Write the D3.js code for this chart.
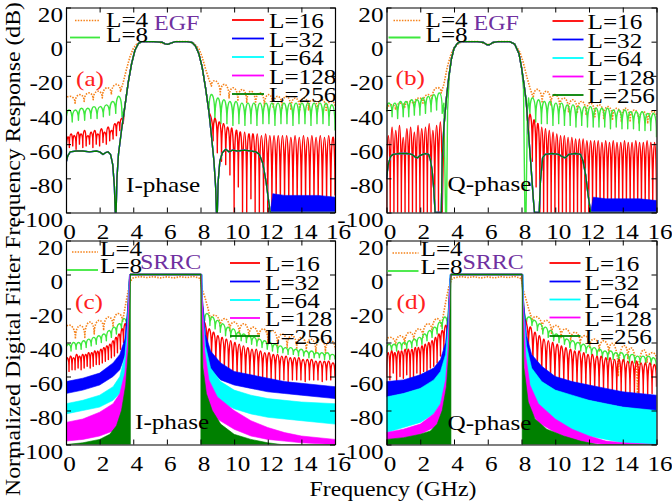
<!DOCTYPE html>
<html>
<head>
<meta charset="utf-8">
<script src="https://cdn.jsdelivr.net/npm/d3@7/dist/d3.min.js"></script>
<style>
  body { margin: 0; background: #fff; }
  svg { display: block; }
  text { font-family: "Liberation Serif", "Times New Roman", serif; }
</style>
</head>
<body>
<div id="chart"></div>
<script>
// ---- data (frequency in GHz, response in dB) ----
const freqTicks = [0, 2, 4, 6, 8, 10, 12, 14, 16];
const dbTicks = [-100, -80, -60, -40, -20, 0, 20];
const legendLabels = ["L=4", "L=8", "L=16", "L=32", "L=64", "L=128", "L=256"];
const panelTitles = ["EGF", "EGF", "SRRC", "SRRC"];
const panelTags = ["(a)", "(b)", "(c)", "(d)"];
const phaseLabels = ["I-phase", "Q-phase", "I-phase", "Q-phase"];

// "lobes" series: values alternate trough / peak, evenly spread from f0 to f1
// (a) EGF, I-phase
const egfIMain = [[0,-71],[0.1,-67],[0.25,-64.5],[0.6,-64],[1.0,-64],[1.4,-64.5],[1.8,-64],[2.0,-64.5],[2.2,-66],[2.35,-65],[2.5,-64.5],[2.65,-66],[2.78,-72],[2.88,-85],[2.93,-100],[2.98,-100],[3.03,-80],[3.12,-66],[3.3,-52],[3.5,-38],[3.7,-24],[3.9,-13],[4.1,-5],[4.3,-1.2],[4.5,0],[5.2,0],[5.7,-0.3],[5.9,-1.3],[6.05,-1.6],[6.2,-1],[6.5,0],[7.2,0],[7.5,-0.5],[7.7,-2.5],[7.9,-7],[8.1,-15],[8.3,-27],[8.5,-41],[8.65,-55],[8.8,-70],[8.9,-85],[8.95,-100],[9.0,-100],[9.05,-82],[9.15,-70],[9.3,-65],[9.5,-63],[9.7,-64.5],[9.9,-63.5],[10.2,-64],[10.6,-63.5],[11.0,-64],[11.3,-64.5],[11.5,-66],[11.7,-71],[11.9,-82],[12.05,-93],[12.15,-100],[16,-100]];
const egfIPass = [[3.5,-38],[3.7,-24],[3.9,-13],[4.1,-5],[4.3,-1.2],[4.5,0],[5.2,0],[5.7,-0.3],[5.9,-1.3],[6.05,-1.6],[6.2,-1],[6.5,0],[7.2,0],[7.5,-0.5],[7.7,-2.5],[7.9,-7],[8.1,-15],[8.3,-27],[8.5,-41]];
const egfIBlueFloor = [[12.15,-100],[12.3,-89],[13,-90],[14,-90],[15,-90],[16,-91]];
const egfIRedL = {f0: 0, f1: 3.4, v: [-71,-56,-62,-54,-61,-55,-63,-53,-60,-54,-62,-52,-61,-55,-60,-53,-62,-52,-60,-54,-61,-51,-59,-53,-60,-50,-58,-52,-57,-48,-55,-47,-52,-45,-48]};
const egfIRedR = {f0: 8.5, f1: 16, v: [-41,-44,-58,-45,-65,-47,-70,-48,-72,-50,-78,-51,-100,-52,-85,-53,-100,-53,-100,-54,-92,-54,-100,-54,-100,-55,-100,-54,-100,-55,-100,-55,-100,-55,-100,-55,-100,-55,-100,-56,-100,-55,-100,-56,-100,-55,-100,-56,-100,-55,-100,-56,-100,-55,-100,-56,-100,-55,-100,-56,-90]};
const egfIGreenL = {f0: 0, f1: 3.33, v: [-47,-40,-47,-40,-46,-39,-46,-39,-45,-38,-45,-38,-44,-37,-43,-35,-42,-32,-44]};
const egfIGreenR = {f0: 8.5, f1: 16, v: [-41,-31,-47,-33,-48,-34,-48,-35,-49,-35,-48,-36,-49,-36,-48,-36,-49,-36,-48,-36,-48,-36,-49,-36,-48,-36,-48,-36,-49,-36,-48,-36,-48,-36,-49,-36,-48,-36,-48,-36,-49,-37,-52]};
const egfIOrangeL = {f0: 0, f1: 3.24, v: [-34,-32,-36,-31,-35,-30,-34,-29,-33,-27,-31,-25,-29]};
const egfIOrangeMid = [[3.24,-29],[3.4,-24],[3.6,-16],[3.8,-9],[4.0,-4],[4.2,-1.5],[4.4,-0.5],[4.6,0],[5.5,-0.2],[5.85,-1.2],[6.05,-1.6],[6.25,-1],[6.5,0],[7.3,0],[7.6,-1],[7.9,-4],[8.1,-9],[8.3,-16],[8.5,-22],[8.65,-26]];
const egfIOrangeR = {f0: 8.65, f1: 16, v: [-26,-23,-31,-25,-33,-27,-35,-28,-36,-29,-37,-30,-38,-31,-39,-32,-39,-32,-40,-33,-40,-33,-40,-34,-41,-34,-41,-35,-38]};

// (b) EGF, Q-phase
const egfQMain = [[0,-80],[0.1,-72],[0.25,-67],[0.4,-66],[0.8,-65.5],[1.2,-65.5],[1.5,-66],[1.7,-67.5],[1.85,-68],[2.0,-66.5],[2.3,-65.5],[2.5,-66],[2.6,-69],[2.7,-75],[2.8,-86],[2.88,-100],[3.25,-100],[3.3,-70],[3.4,-50],[3.55,-33],[3.7,-20],[3.85,-10],[4.0,-4],[4.2,-1],[4.4,0],[5.4,0],[5.75,-0.5],[5.95,-1.8],[6.1,-1.8],[6.3,-0.5],[6.6,0],[7.3,0],[7.6,-1.5],[7.85,-7],[8.0,-15],[8.15,-25],[8.28,-35],[8.42,-54],[8.57,-74],[8.7,-92],[8.77,-100],[9.05,-100],[9.12,-82],[9.25,-68],[9.4,-66],[9.8,-65.5],[10.2,-66],[10.45,-67.5],[10.6,-68],[10.8,-66],[11.2,-65.5],[11.5,-66],[11.65,-70],[11.8,-78],[11.95,-90],[12.1,-100],[16,-100]];
const egfQPass = [[3.4,-50],[3.55,-33],[3.7,-20],[3.85,-10],[4.0,-4],[4.2,-1],[4.4,0],[5.4,0],[5.75,-0.5],[5.95,-1.8],[6.1,-1.8],[6.3,-0.5],[6.6,0],[7.3,0],[7.6,-1.5],[7.85,-7],[8.0,-15],[8.15,-25],[8.28,-35],[8.42,-54]];
const egfQBlueFloor = [[12.1,-100],[12.25,-91],[13,-92],[14,-92],[15,-92],[16,-93]];
const egfQRedL = {f0: 0, f1: 3.3, v: [-100,-55,-100,-50,-100,-52,-100,-49,-100,-56,-100,-51,-100,-50,-100,-53,-100,-49,-100,-51,-100,-50,-100,-48,-100,-52,-100,-49,-100,-47,-100]};
const egfQRedR = {f0: 8.42, f1: 16, v: [-54,-43,-70,-46,-85,-48,-100,-50,-100,-51,-100,-52,-100,-53,-100,-54,-100,-55,-100,-55,-100,-56,-100,-56,-100,-57,-100,-57,-100,-57,-100,-58,-100,-58,-100,-58,-100,-58,-100,-59,-100,-58,-100,-59,-100,-58,-100,-59,-100,-59,-100,-58,-100,-59,-100,-59,-100,-58,-100,-59,-100,-59,-100,-58,-100,-59,-100,-59,-100]};
const egfQGreenL = {f0: 0, f1: 3.3, v: [-41,-36,-44,-36,-45,-35,-44,-35,-44,-34,-43,-34,-43,-33,-42,-32,-41,-31,-40,-30,-42]};
const egfQGreenMid = [[3.3,-42],[3.4,-36],[3.5,-100],[3.56,-100],[3.62,-40],[3.72,-20],[3.85,-10],[4.0,-4],[4.2,-1],[4.4,0],[5.4,0],[5.75,-0.5],[5.95,-1.8],[6.1,-1.8],[6.3,-0.5],[6.6,0],[7.3,0],[7.6,-1.5],[7.85,-7],[8.0,-15],[8.12,-28],[8.2,-100],[8.27,-100],[8.35,-40],[8.42,-33],[8.5,-42]];
const egfQGreenR = {f0: 8.5, f1: 16, v: [-42,-33,-47,-34,-48,-35,-48,-35,-49,-36,-48,-36,-49,-37,-49,-37,-50,-38,-49,-38,-50,-38,-50,-39,-50,-39,-50,-39,-51,-40,-50,-40,-51,-40,-51,-41,-51,-41,-52,-41,-52,-42,-52,-42,-56]};
const egfQOrangeL = {f0: 0, f1: 3.24, v: [-41,-37,-40,-36,-39,-35,-38,-33,-36,-31,-34,-27,-30]};
const egfQOrangeMid = [[3.24,-30],[3.4,-25],[3.6,-15],[3.8,-8],[4.0,-3.5],[4.2,-1.5],[4.4,-0.5],[4.6,0],[5.5,0],[5.9,-1.5],[6.1,-1.7],[6.3,-0.7],[6.6,0],[7.3,0],[7.6,-1.5],[7.9,-6],[8.1,-12],[8.3,-20],[8.5,-27],[8.7,-33]];
const egfQOrangeR = {f0: 8.7, f1: 16, v: [-33,-28,-36,-29,-37,-31,-39,-33,-41,-34,-42,-35,-43,-36,-44,-37,-45,-38,-46,-39,-47,-39,-47,-40,-48,-41,-48,-41,-44]};

// (c) SRRC, I-phase  (bands: [f, top, bottom]; bottom defaults to -100)
const srrcPass = [[3.8,0],[8.05,0]];
const srrcIL256L = [[0,-100],[1,-99],[2,-97],[2.6,-94],[3.0,-89],[3.3,-80],[3.55,-65],[3.7,-45],[3.78,-20],[3.83,0]];
const srrcIL256R = [[8.02,0],[8.06,-25],[8.15,-55],[8.35,-70],[8.7,-80],[9.2,-88],[10,-94],[11,-97],[12,-99],[12.8,-100],[16,-100]];
const srrcIL128L = [[0,-87,-98],[1,-85,-97],[2,-81,-95],[2.8,-76,-92],[3.2,-70,-88],[3.5,-58,-78],[3.65,-40,-60],[3.75,-10,-30],[3.8,0,-5]];
const srrcIL128R = [[8.05,0,-5],[8.1,-15,-40],[8.25,-45,-70],[8.5,-62,-78],[9,-72,-85],[10,-80,-91],[11,-86,-95],[12,-90,-97],[13,-93,-98],[14,-95,-99],[16,-97,-100]];
const srrcIL64L = [[0,-76,-82],[1,-74,-80],[2,-71,-78],[2.8,-66,-74],[3.2,-60,-70],[3.5,-48,-60],[3.65,-30,-45],[3.75,-5,-15],[3.78,0,-3]];
const srrcIL64R = [[8.08,0,-3],[8.12,-20,-35],[8.3,-42,-58],[8.6,-55,-68],[9.2,-63,-75],[10,-68,-79],[11,-71,-82],[12,-73,-84],[13,-74,-85],[14,-75,-86],[16,-76,-88]];
const srrcIL32L = [[0,-63,-70],[1,-61,-68],[2,-58,-65],[2.8,-52,-60],[3.2,-47,-56],[3.5,-38,-48],[3.65,-22,-35],[3.75,-3,-10],[3.78,0,-2]];
const srrcIL32R = [[8.08,0,-2],[8.12,-15,-28],[8.3,-35,-48],[8.6,-45,-56],[9.2,-52,-62],[10,-57,-65],[11,-59,-67],[12,-61,-69],[13,-63,-70],[14,-64,-71],[16,-66,-73]];
const srrcIRedL = {f0: 0, f1: 3.6, v: [-56,-49,-57,-48,-56,-49,-56,-47,-55,-48,-56,-47,-55,-47,-54,-46,-55,-46,-54,-45,-53,-45,-53,-44,-52,-43,-51,-42,-50,-41,-49,-39,-48,-37,-46,-35,-44,-32,-40,-29,-36]};
const srrcIRedMid = [[3.6,-36],[3.7,-20],[3.78,-3],[3.83,0],[8.02,0],[8.08,-10],[8.15,-28]];
const srrcIRedR = {f0: 8.15, f1: 16, v: [-28,-29,-45,-32,-50,-34,-55,-36,-58,-37,-60,-38,-62,-39,-62,-40,-63,-41,-63,-42,-63,-43,-62,-44,-62,-44,-62,-45,-62,-46,-62,-46,-63,-47,-62,-47,-62,-48,-62,-48,-63,-49,-62,-49,-62,-49,-62,-50,-63,-50,-62,-50,-62,-51,-62,-51,-63,-51,-62,-51,-62,-52,-60]};
const srrcIGreenL = {f0: 0, f1: 3.6, v: [-45,-41,-45,-40,-44,-40,-44,-39,-43,-38,-42,-37,-41,-36,-40,-35,-39,-33,-37,-31,-35,-29,-32,-26,-30]};
const srrcIGreenMid = [[3.6,-30],[3.7,-18],[3.78,-4],[3.83,0],[8.02,0],[8.06,-8],[8.15,-22],[8.25,-27]];
const srrcIGreenR = {f0: 8.25, f1: 16, v: [-27,-23,-30,-25,-32,-27,-34,-29,-36,-31,-37,-32,-38,-34,-39,-35,-40,-36,-41,-37,-42,-38,-43,-39,-44,-40,-45,-41,-46,-42,-46,-43,-47,-43,-47,-44,-48,-44,-48,-45,-49,-45,-49,-46,-49,-46,-50,-46,-50,-47,-50]};
const srrcIOrangeL = {f0: 0, f1: 3.36, v: [-32,-30,-38,-30,-37,-28,-35,-27,-33,-25,-31,-23,-28]};
const srrcIOrangeMid = [[3.36,-28],[3.5,-20],[3.65,-12],[3.8,-5],[3.9,-3],[4.0,-2],[4.4,-1.2],[4.8,-1.8],[5.2,-1.3],[5.6,-2],[6.0,-1.4],[6.4,-2],[6.8,-1.3],[7.2,-1.8],[7.6,-1.2],[7.9,-2],[8.0,-3],[8.1,-9],[8.25,-13],[8.45,-20],[8.6,-27]];
const srrcIOrangeR = {f0: 8.6, f1: 16, v: [-27,-24,-31,-26,-33,-28,-35,-29,-37,-31,-39,-32,-40,-33,-42,-35,-43,-36,-44,-37,-45,-38,-46,-38,-46,-39,-44]};

// (d) SRRC, Q-phase
const srrcQL256L = [[0,-97],[1,-96],[2,-94],[2.6,-92],[3.0,-88],[3.3,-80],[3.55,-66],[3.7,-45],[3.78,-15],[3.82,0]];
const srrcQL256R = [[8.04,0],[8.08,-25],[8.15,-55],[8.4,-75],[8.8,-85],[9.5,-91],[10.5,-95],[11.5,-98],[12.5,-100],[16,-100]];
const srrcQL128L = [[0,-93,-97],[1,-91,-96],[2,-88,-94],[2.8,-82,-90],[3.2,-76,-86],[3.5,-62,-76],[3.65,-42,-58],[3.75,-10,-30],[3.8,0,-5]];
const srrcQL128R = [[8.05,0,-5],[8.1,-18,-40],[8.25,-48,-70],[8.5,-65,-80],[9,-76,-87],[10,-85,-93],[11,-91,-97],[12,-95,-99],[13,-98,-100],[14,-99,-100],[16,-100,-100]];
const srrcQL64L = [[0,-72,-93],[1,-70,-90],[2,-67,-87],[2.8,-62,-82],[3.2,-57,-76],[3.5,-47,-65],[3.65,-30,-48],[3.75,-5,-15],[3.78,0,-3]];
const srrcQL64R = [[8.08,0,-3],[8.12,-20,-40],[8.3,-42,-62],[8.6,-55,-74],[9.2,-63,-82],[10,-68,-88],[11,-71,-92],[12,-74,-95],[13,-76,-97],[14,-78,-99],[16,-80,-100]];
const srrcQL32L = [[0,-63,-72],[1,-62,-70],[2,-59,-67],[2.8,-55,-63],[3.2,-50,-58],[3.5,-40,-50],[3.65,-24,-36],[3.75,-3,-10],[3.78,0,-2]];
const srrcQL32R = [[8.08,0,-2],[8.12,-15,-28],[8.3,-36,-50],[8.6,-47,-59],[9.2,-54,-64],[10,-60,-69],[11,-63,-72],[12,-65,-74],[13,-67,-76],[14,-69,-78],[16,-71,-81]];
const srrcQRedL = {f0: 0, f1: 3.6, v: [-60,-46,-62,-45,-58,-46,-63,-45,-60,-45,-61,-44,-59,-44,-62,-44,-60,-43,-58,-43,-60,-42,-57,-41,-58,-40,-55,-39,-54,-37,-52,-35,-48,-33,-44,-30,-38]};
const srrcQRedMid = [[3.6,-38],[3.7,-20],[3.78,-3],[3.83,0],[8.02,0],[8.08,-10],[8.15,-27]];
const srrcQRedR = {f0: 8.15, f1: 16, v: [-27,-28,-45,-31,-55,-34,-60,-36,-64,-38,-66,-39,-66,-40,-67,-41,-66,-42,-67,-43,-68,-44,-67,-45,-68,-45,-69,-46,-68,-47,-69,-47,-70,-48,-69,-48,-70,-49,-69,-49,-70,-50,-70,-50,-69,-50,-70,-51,-70,-51,-71,-51,-70,-52,-70,-52,-71,-52,-70,-53,-66]};
const srrcQGreenL = {f0: 0, f1: 3.6, v: [-46,-41,-45,-41,-45,-40,-44,-40,-44,-39,-43,-38,-42,-37,-41,-35,-39,-33,-37,-31,-35,-28,-32,-25,-30]};
const srrcQGreenMid = [[3.6,-30],[3.7,-18],[3.78,-4],[3.83,0],[8.02,0],[8.06,-8],[8.15,-22],[8.3,-28]];
const srrcQGreenR = {f0: 8.3, f1: 16, v: [-28,-25,-30,-27,-33,-29,-35,-31,-37,-33,-39,-35,-40,-36,-41,-38,-43,-39,-44,-40,-45,-41,-46,-42,-47,-43,-48,-44,-49,-45,-50,-45,-50,-46,-51,-46,-51,-47,-52,-47,-52,-48,-53,-48,-53,-48,-53,-49,-56]};
const srrcQOrangeL = {f0: 0, f1: 3.24, v: [-39,-37,-42,-36,-41,-34,-39,-32,-37,-29,-34,-26,-31]};
const srrcQOrangeMid = [[3.24,-31],[3.4,-22],[3.55,-14],[3.7,-7],[3.85,-3],[4.0,-2],[4.4,-1.2],[4.8,-1.8],[5.2,-1.3],[5.6,-2],[6.0,-1.4],[6.4,-2],[6.8,-1.3],[7.2,-1.8],[7.6,-1.2],[7.9,-2],[8.0,-3],[8.1,-9],[8.25,-14],[8.45,-21],[8.65,-27]];
const srrcQOrangeR = {f0: 8.65, f1: 16, v: [-27,-25,-32,-27,-35,-30,-37,-32,-39,-34,-41,-36,-43,-38,-45,-39,-47,-41,-60,-42,-50,-44,-70,-45,-52,-46,-50]};

// ---- styles ----
const colors = ["#f5821a", "#3de83d", "#ff0000", "#0000ff", "#00ffff", "#ff00ff", "#008000"];
const SX = 1.2;          // glyphs in the figure are stretched horizontally
const W = 672, H = 504;

// series per panel, in plotting order (L=4 first, L=256 last / on top)
const panels = [
  [
    {lines: [["lobes", egfIOrangeL], ["pts", egfIOrangeMid], ["lobes", egfIOrangeR]]},
    {lines: [["lobes", egfIGreenL], ["pts", egfIPass], ["lobes", egfIGreenR]]},
    {lines: [["lobes", egfIRedL], ["pts", egfIPass], ["lobes", egfIRedR]]},
    {bands: [egfIBlueFloor], lines: [["pts", egfIMain]]},
    {lines: [["pts", egfIMain]]},
    {lines: [["pts", egfIMain]]},
    {lines: [["pts", egfIMain]]}
  ],
  [
    {lines: [["lobes", egfQOrangeL], ["pts", egfQOrangeMid], ["lobes", egfQOrangeR]]},
    {lines: [["lobes", egfQGreenL], ["pts", egfQGreenMid], ["lobes", egfQGreenR]]},
    {lines: [["lobes", egfQRedL], ["pts", egfQPass], ["lobes", egfQRedR]]},
    {bands: [egfQBlueFloor], lines: [["pts", egfQMain]]},
    {lines: [["pts", egfQMain]]},
    {lines: [["pts", egfQMain]]},
    {lines: [["pts", egfQMain]]}
  ],
  [
    {lines: [["lobes", srrcIOrangeL], ["pts", srrcIOrangeMid], ["lobes", srrcIOrangeR]]},
    {lines: [["lobes", srrcIGreenL], ["pts", srrcIGreenMid], ["lobes", srrcIGreenR]]},
    {lines: [["lobes", srrcIRedL], ["pts", srrcIRedMid], ["lobes", srrcIRedR]]},
    {bands: [srrcIL32L, srrcIL32R], lines: [["pts", srrcPass]]},
    {bands: [srrcIL64L, srrcIL64R], lines: [["pts", srrcPass]]},
    {bands: [srrcIL128L, srrcIL128R], lines: [["pts", srrcPass]]},
    {bands: [srrcIL256L, srrcIL256R], lines: [["pts", srrcPass]]}
  ],
  [
    {lines: [["lobes", srrcQOrangeL], ["pts", srrcQOrangeMid], ["lobes", srrcQOrangeR]]},
    {lines: [["lobes", srrcQGreenL], ["pts", srrcQGreenMid], ["lobes", srrcQGreenR]]},
    {lines: [["lobes", srrcQRedL], ["pts", srrcQRedMid], ["lobes", srrcQRedR]]},
    {bands: [srrcQL32L, srrcQL32R], lines: [["pts", srrcPass]]},
    {bands: [srrcQL64L, srrcQL64R], lines: [["pts", srrcPass]]},
    {bands: [srrcQL128L, srrcQL128R], lines: [["pts", srrcPass]]},
    {bands: [srrcQL256L, srrcQL256R], lines: [["pts", srrcPass]]}
  ]
];

// pixel layout of each panel and its annotations
const layout = [
  {x0: 66, x1: 335, yT: 7.5, yB: 212.5, leg: {l4: 20.5, l8: 37.5, lx0: 4, lx1: 34, tx: 40, t4: 27, t8: 42, rx0: 166, rx1: 198, rtx: 203, ry: [20, 38.5, 57, 75.5, 94], title: [88, 30], tag: [10, 86], phase: [60, 192]}},
  {x0: 386.5, x1: 656.5, yT: 7.5, yB: 212.5, leg: {l4: 20.5, l8: 37.5, lx0: 2, lx1: 34, tx: 39, t4: 27, t8: 42, rx0: 166, rx1: 197, rtx: 201, ry: [21, 39.5, 58, 76.5, 95], title: [87, 30], tag: [9, 85], phase: [61, 191]}},
  {x0: 66, x1: 335, yT: 240.5, yB: 444.5, leg: {l4: 252, l8: 270, lx0: 1, lx1: 32, tx: 34, t4: 256, t8: 273, rx0: 164, rx1: 194, rtx: 199, ry: [263, 281.5, 300, 318, 336], title: [74, 269], tag: [9, 309], phase: [69, 429]}},
  {x0: 386.5, x1: 656.5, yT: 240.5, yB: 444.5, leg: {l4: 253, l8: 271, lx0: 1, lx1: 32, tx: 34, t4: 256, t8: 274, rx0: 163, rx1: 194, rtx: 198, ry: [263, 281.5, 299.5, 317.5, 336], title: [76, 269], tag: [10, 309], phase: [61, 430]}}
];

const svg = d3.select("#chart").append("svg")
  .attr("width", W).attr("height", H)
  .attr("viewBox", `0 0 ${W} ${H}`);

function addText(g, x, y, str, size, fill, anchor) {
  return g.append("text")
    .attr("transform", `translate(${x},${y}) scale(${SX},1)`)
    .attr("text-anchor", anchor || "start")
    .attr("font-size", size)
    .attr("fill", fill || "#000")
    .text(str);
}

function addLobes(p, s, x, y, first) {
  const n = s.v.length, df = (s.f1 - s.f0) / (n - 1);
  const P = s.v.map((v, i) => [x(s.f0 + i * df), y(v)]);
  if (first) p.moveTo(P[0][0], P[0][1]); else p.lineTo(P[0][0], P[0][1]);
  for (let i = 1; i + 1 < n; i += 2) {
    const a = P[i - 1], b = P[i + 1];
    // control points placed so the lobe top lands on the peak value
    const yc = (P[i][1] - (a[1] + b[1]) / 8) * 4 / 3;
    p.bezierCurveTo(a[0], yc, b[0], yc, b[0], b[1]);
  }
  if (n % 2 === 0) p.lineTo(P[n - 1][0], P[n - 1][1]);
}

function seriesPath(segs, x, y) {
  const p = d3.path();
  let first = true;
  segs.forEach(([kind, d]) => {
    if (kind === "lobes") addLobes(p, d, x, y, first);
    else d.forEach((pt, i) => {
      if (first && i === 0) p.moveTo(x(pt[0]), y(pt[1]));
      else p.lineTo(x(pt[0]), y(pt[1]));
    });
    first = false;
  });
  return p.toString();
}

panels.forEach((series, pi) => {
  const L = layout[pi];
  const x = d3.scaleLinear().domain([0, 16]).range([L.x0, L.x1]);
  const y = d3.scaleLinear().domain([-100, 20]).range([L.yB, L.yT]);
  const g = svg.append("g");

  const clipId = "clip" + pi;
  g.append("clipPath").attr("id", clipId).append("rect")
    .attr("x", L.x0).attr("y", L.yT).attr("width", L.x1 - L.x0).attr("height", L.yB - L.yT);
  const plot = g.append("g").attr("clip-path", `url(#${clipId})`);

  const area = d3.area()
    .x(d => x(d[0]))
    .y0(d => y(d.length > 2 ? d[2] : -100))
    .y1(d => y(d[1]));

  series.forEach((s, si) => {
    (s.bands || []).forEach(b => {
      plot.append("path").attr("d", area(b))
        .attr("fill", colors[si]).attr("stroke", colors[si]).attr("stroke-width", 0.6);
    });
    plot.append("path")
      .attr("d", seriesPath(s.lines, x, y))
      .attr("fill", "none")
      .attr("stroke", colors[si])
      .attr("stroke-width", si === 0 ? 1.6 : 1.4)
      .attr("stroke-dasharray", si === 0 ? "1.5,1.3" : null)
      .attr("stroke-linejoin", "round");
  });

  // axes: ticks pointing inward on all four sides (box on)
  const fmt = d => String(d);
  const styleAxis = sel => {
    sel.selectAll("path.domain").attr("stroke", "#000").attr("stroke-width", 1.2);
    sel.selectAll(".tick line").attr("stroke", "#000").attr("stroke-width", 1);
  };
  const xb = g.append("g").attr("transform", `translate(0,${L.yB})`)
    .call(d3.axisBottom(x).tickValues(freqTicks).tickFormat(fmt).tickSize(-5).tickSizeOuter(0));
  xb.selectAll("text").attr("y", null).attr("dy", null)
    .attr("transform", `translate(3,26) scale(${SX},1)`)
    .attr("font-size", 21).attr("font-family", null).attr("fill", "#000");
  g.append("g").attr("transform", `translate(0,${L.yT})`)
    .call(d3.axisTop(x).tickValues(freqTicks).tickFormat("").tickSize(-5).tickSizeOuter(0)).call(styleAxis);
  const yl = g.append("g").attr("transform", `translate(${L.x0},0)`)
    .call(d3.axisLeft(y).tickValues(dbTicks).tickFormat(fmt).tickSize(-5).tickSizeOuter(0));
  yl.selectAll("text").attr("x", null).attr("dy", null)
    .attr("transform", `translate(-3,14) scale(${SX},1)`)
    .attr("font-size", 21).attr("font-family", null).attr("fill", "#000");
  g.append("g").attr("transform", `translate(${L.x1},0)`)
    .call(d3.axisRight(y).tickValues(dbTicks).tickFormat("").tickSize(-5).tickSizeOuter(0)).call(styleAxis);
  styleAxis(xb); styleAxis(yl);

  // legend
  const lg = L.leg;
  const leg = g.append("g");
  const sample = (x0, x1, yy, si) => leg.append("line")
    .attr("x1", L.x0 + x0).attr("x2", L.x0 + x1).attr("y1", yy).attr("y2", yy)
    .attr("stroke", colors[si]).attr("stroke-width", si === 0 ? 1.6 : 1.8)
    .attr("stroke-dasharray", si === 0 ? "1.5,1.3" : null);
  sample(lg.lx0 + 5, lg.lx1, lg.l4, 0);
  sample(lg.lx0, lg.lx1, lg.l8, 1);
  addText(leg, L.x0 + lg.tx, lg.t4, legendLabels[0], 21);
  addText(leg, L.x0 + lg.tx, lg.t8, legendLabels[1], 21);
  lg.ry.forEach((yy, k) => {
    sample(lg.rx0, lg.rx1, yy, k + 2);
    addText(leg, L.x0 + lg.rtx, yy + 8, legendLabels[k + 2], 21);
  });

  addText(g, L.x0 + lg.title[0], lg.title[1], panelTitles[pi], 20, "#7030a0");
  addText(g, L.x0 + lg.tag[0], lg.tag[1], panelTags[pi], 21, "#ff2020");
  addText(g, L.x0 + lg.phase[0], lg.phase[1], phaseLabels[pi], 21);
});

// axis titles
svg.append("text")
  .attr("x", 393).attr("y", 496)
  .attr("text-anchor", "middle").attr("font-size", 22)
  .attr("textLength", 167).attr("lengthAdjust", "spacingAndGlyphs")
  .text("Frequency (GHz)");
svg.append("text")
  .attr("transform", "translate(20,249) rotate(-90)")
  .attr("text-anchor", "middle").attr("font-size", 22)
  .attr("textLength", 494).attr("lengthAdjust", "spacingAndGlyphs")
  .text("Normalized Digital Filter Frequency Response (dB)");
</script>
</body>
</html>
